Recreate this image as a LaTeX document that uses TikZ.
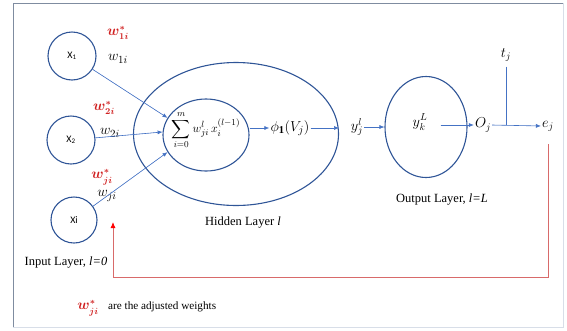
\documentclass[tikz,border=0pt]{standalone}
\usepackage{amsmath}
\usepackage{amssymb}
\usepackage{fontspec}
\setmainfont{Liberation Serif}
\newfontfamily\calib{Carlito}
\usetikzlibrary{arrows.meta, shapes.geometric}

\definecolor{circblue}{HTML}{2F5597}
\definecolor{arrblue}{HTML}{4472C4}
\definecolor{wred}{HTML}{D02020}
\definecolor{fbred}{HTML}{D86A6A}
\definecolor{framedark}{HTML}{7F8CA0}
\definecolor{framelight}{HTML}{D8DEE8}

\begin{document}
\begin{tikzpicture}[
  x=1pt, y=-1pt,
  inp/.style={circle, draw=circblue, line width=1.1pt, minimum size=48pt,
              inner sep=0pt, font=\calib\fontsize{10}{11}\selectfont},
  ell/.style={ellipse, draw=circblue, line width=1.1pt, inner sep=0pt},
  wt/.style={font=\fontsize{15}{17}\selectfont, inner sep=1pt},
  wtadj/.style={text=wred, font=\fontsize{13.5}{15}\selectfont, inner sep=1pt},
  lbl/.style={font=\fontsize{12.5}{14}\selectfont, inner sep=1pt},
  mth/.style={font=\fontsize{14}{16}\selectfont, inner sep=1pt},
  arr/.style={-{Latex[length=5pt, width=4pt]}, draw=arrblue, fill=arrblue, line width=0.6pt},
  conn/.style={draw=arrblue, line width=0.6pt},
  fb/.style={-{Latex[length=6pt, width=5pt, color=red]}, draw=fbred, line width=0.8pt}]
  \useasboundingbox (0,0) rectangle (567,330);
  % frame
  \draw[framedark, line width=1pt] (13,327) -- (13,3) -- (563,3);
  \draw[framelight, line width=0.8pt] (563,3) -- (563,327) -- (13,327);
  % input layer
  \node[inp] (x1) at (72,56) {X\textsubscript{1}};
  \node[inp] (x2) at (71,140) {X\textsubscript{2}};
  \node[inp, minimum size=46pt] (xi) at (74,220) {Xi};
  \node[wtadj] (w1s) at (118,33) {$\boldsymbol{w^{*}_{1i}}$};
  \node[wt] (w1) at (118,59) {$w_{1i}$};
  \node[wtadj] (w2s) at (104,108) {$\boldsymbol{w^{*}_{2i}}$};
  \node[wt] (w2) at (110,133) {$w_{2i}$};
  \node[wtadj] (wjs) at (102,177) {$\boldsymbol{w^{*}_{ji}}$};
  \node[wt] (wj) at (107,196) {$w_{ji}$};
  \node[lbl] (inlbl) at (66,263) {Input Layer, \textit{l=0}};
  % hidden layer
  \node[ell, minimum width=205pt, minimum height=143pt] (hidden) at (236,134) {};
  \node[ell, minimum width=86pt, minimum height=72pt] (inner) at (206,135) {};
  \node[font=\fontsize{13}{15}\selectfont, inner sep=0pt] (sum) at (206,130)
    {$\displaystyle\sum_{i=0}^{m} w_{ji}^{l}\,x_i^{(l-1)}$};
  \node[font=\fontsize{15}{17}\selectfont, inner sep=1pt] (phi) at (290,128) {$\phi_{\mathbf{1}}(V_j)$};
  \node[lbl] (hidlbl) at (243,223) {Hidden Layer \textit{l}};
  \node[mth] (yjl) at (357,127) {$y_j^{l}$};
  % output layer
  \node[ell, minimum width=82pt, minimum height=101pt] (out) at (426,127) {};
  \node[mth] (yk) at (420,122) {$y_k^{L}$};
  \node[mth] (oj) at (483,125) {$O_j$};
  \node[mth] (ej) at (548,126) {$e_j$};
  \node[mth] (tj) at (506,55) {$t_j$};
  \node[lbl] (outlbl) at (442,200) {Output Layer, \textit{l=L}};
  % legend
  \node[wtadj] (wleg) at (88,308) {$\boldsymbol{w^{*}_{ji}}$};
  \node[font=\fontsize{11.2}{13}\selectfont, inner sep=1pt, anchor=west] (legtxt) at (107,307) {are the adjusted weights};
  % connectors
  \draw[arr] (x1) -- (inner.156);
  \draw[arr] (x2) -- (inner.176);
  \draw[arr] (xi) -- (inner.204);
  \draw[arr] (inner.east |- phi) -- (phi.west);
  \draw[arr] (phi.east) -- (phi.east -| hidden.east);
  \draw[arr] (yjl.east) -- (yjl.east -| out.west);
  \draw[arr] ([xshift=12pt]yk.east |- oj.west) -- (oj.west);
  \draw[arr] (oj.east) -- (ej.west);
  \draw[conn] ([yshift=-4pt]tj.south) -- (tj |- oj);
  % feedback
  \coordinate (fbcorner) at (113,277);
  \coordinate (fbend) at (113,222);
  \draw[fb] ([yshift=-12pt]ej.south) |- (fbcorner) -- (fbend);
\end{tikzpicture}
\end{document}
